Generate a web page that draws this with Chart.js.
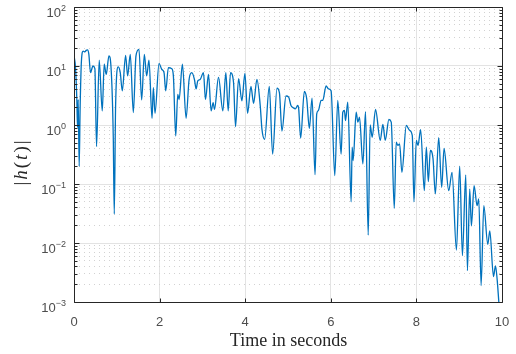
<!DOCTYPE html>
<html>
<head>
<meta charset="utf-8">
<script src="https://cdn.jsdelivr.net/npm/chart.js@4/dist/chart.umd.min.js"></script>
<style>
  html, body { margin: 0; padding: 0; background: #fff; }
</style>
</head>
<body>
<canvas id="impulseChart" width="516" height="354"></canvas>
<script>
// |h(t)| (time in seconds, magnitude)
const times = [
  0.00, 0.035, 0.066, 0.082, 0.098, 0.121, 0.144, 0.176, 0.215, 0.254, 0.285, 0.316, 0.347, 0.386, 0.41, 0.441,
  0.488, 0.527, 0.589, 0.66, 0.706, 0.753, 0.816, 0.863, 0.917, 0.941, 0.972, 1.034, 1.081, 1.128, 1.206, 1.253,
  1.315, 1.386, 1.448, 1.518, 1.581, 1.643, 1.698, 1.752, 1.823, 1.854, 1.893, 1.987, 2.049, 2.104, 2.143, 2.205,
  2.283, 2.322, 2.377, 2.424, 2.455, 2.533, 2.619, 2.689, 2.752, 2.814, 2.853, 2.892, 2.947, 3.025, 3.072, 3.142,
  3.204, 3.251, 3.283, 3.376, 3.478, 3.548, 3.603, 3.657, 3.728, 3.774, 3.845, 3.923, 3.993, 4.055, 4.134, 4.196,
  4.274, 4.352, 4.391, 4.454, 4.563, 4.641, 4.743, 4.80, 4.859, 4.953, 5.016, 5.069, 5.124, 5.171, 5.226, 5.25,
  5.296, 5.382, 5.437, 5.499, 5.562, 5.632, 5.671, 5.71, 5.773, 5.812, 5.89, 5.944, 6.007, 6.093, 6.163, 6.241,
  6.28, 6.319, 6.343, 6.397, 6.475, 6.499, 6.522, 6.593, 6.632, 6.671, 6.749, 6.811, 6.874, 6.92, 6.967, 7.045,
  7.155, 7.217, 7.272, 7.357, 7.412, 7.483, 7.529, 7.568, 7.608, 7.661, 7.764, 7.842, 7.904, 7.943, 7.998, 8.037,
  8.099, 8.185, 8.232, 8.279, 8.326, 8.388, 8.443, 8.521, 8.591, 8.646, 8.755, 8.833, 8.935, 9.012, 9.075, 9.153,
  9.192, 9.246, 9.285, 9.348, 9.418, 9.457, 9.512, 9.575, 9.668, 9.715, 9.801, 9.848, 9.887, 9.926, 9.95
];
const magnitudes = [
  15, 9.4, 2.7, 0.91, 2.7, 0.20, 2.1, 13.0, 17.9, 17.3, 18.4, 18.7, 15.7, 7.7, 8.6, 10,
  9.0, 0.43, 12.6, 1.73, 10.7, 7.2, 14.8, 10, 0.65, 0.031, 2.1, 9.7, 7.7, 3.8, 15.1, 6.8,
  15.7, 1.62, 14.8, 19.1, 2.66, 15.7, 6.8, 12.6, 1.30, 4.3, 1.58, 11.1, 8.8, 7.7, 3.8, 9.4,
  9.0, 6.8, 0.65, 3.3, 2.7, 10.7, 1.30, 5.9, 7.7, 5.9, 4.1, 5.6, 5.9, 7.7, 2.7, 7.2,
  1.73, 2.4, 1.85, 6.4, 1.73, 7.7, 1.73, 7.7, 5.2, 0.94, 6.1, 2.56, 7.5, 1.58, 4.5, 2.33,
  5.9, 2.1, 0.85, 0.57, 4.5, 0.32, 4.2, 3.5, 0.79, 3.1, 2.97, 2.14, 1.96, 1.88, 2.14, 1.88,
  0.60, 3.7, 2.79, 0.88, 2.86, 0.144, 1.55, 1.76, 2.61, 2.61, 4.6, 4.1, 3.8, 0.139, 2.61, 0.32,
  1.65, 1.76, 1.19, 2.44, 0.050, 0.42, 0.25, 1.65, 1.12, 1.36, 0.219, 1.69, 0.0136, 1.0, 0.62, 1.83,
  0.55, 1.02, 0.55, 1.24, 1.12, 0.0386, 0.51, 0.45, 0.48, 0.158, 0.98, 0.81, 0.66, 0.050, 0.55, 0.45,
  0.83, 0.077, 0.42, 0.110, 0.37, 0.27, 0.068, 0.61, 0.088, 0.40, 0.077, 0.158, 0.0076, 0.20, 0.0061, 0.142,
  0.0034, 0.082, 0.0196, 0.094, 0.043, 0.056, 0.0019, 0.043, 0.0095, 0.0161, 0.0027, 0.0041, 0.0024, 0.001, 0.0006
];

const xTicks = [0, 2, 4, 6, 8, 10];
const yDecades = [-3, -2, -1, 0, 1, 2];
const xTitle = "Time in seconds";

const points = times.map((t, i) => ({ x: t, y: magnitudes[i] }));

// decade ticks plus 2..9 minor ticks for the log axis
function logTicks() {
  const out = [];
  yDecades.forEach((d, i) => {
    out.push({ value: Math.pow(10, d), major: true });
    if (i < yDecades.length - 1) {
      for (let k = 2; k <= 9; k++) out.push({ value: k * Math.pow(10, d), major: false });
    }
  });
  return out;
}

const axisFrame = {
  id: "axisFrame",
  afterDraw(chart) {
    const { ctx, chartArea: area } = chart;
    const xs = chart.scales.x;
    const ys = chart.scales.y;
    const L = Math.round(area.left) + 0.5;
    const R = Math.round(area.right) + 0.5;
    const T = Math.round(area.top) + 0.5;
    const B = Math.round(area.bottom) + 0.5;

    ctx.save();
    ctx.strokeStyle = "#262626";
    ctx.lineWidth = 1;
    ctx.beginPath();
    ctx.rect(L, T, R - L, B - T);
    xTicks.forEach(v => {
      const px = Math.round(xs.getPixelForValue(v)) + 0.5;
      ctx.moveTo(px, B); ctx.lineTo(px, B - 4);
      ctx.moveTo(px, T); ctx.lineTo(px, T + 4);
    });
    ys.ticks.forEach(t => {
      const py = Math.round(ys.getPixelForValue(t.value)) + 0.5;
      const len = t.major ? 5 : 3;
      ctx.moveTo(L, py); ctx.lineTo(L + len, py);
      ctx.moveTo(R, py); ctx.lineTo(R - len, py);
    });
    ctx.stroke();

    // tick labels
    ctx.fillStyle = "#4d4d4d";
    ctx.textBaseline = "alphabetic";
    ctx.font = '13px "Liberation Sans", Arial, sans-serif';
    ctx.textAlign = "center";
    xTicks.forEach(v => {
      ctx.fillText(String(v), xs.getPixelForValue(v), 326);
    });

    const labelRight = 66;
    yDecades.forEach(d => {
      const py = ys.getPixelForValue(Math.pow(10, d));
      const exp = d < 0 ? "\u2212" + Math.abs(d) : String(d);
      ctx.font = '9px "Liberation Sans", Arial, sans-serif';
      const ew = ctx.measureText(exp).width;
      ctx.textAlign = "left";
      ctx.fillText(exp, labelRight - ew, py + 4);
      ctx.font = '13px "Liberation Sans", Arial, sans-serif';
      ctx.textAlign = "right";
      ctx.fillText("10", labelRight - ew, py + 10);
    });

    // axis titles
    ctx.fillStyle = "#262626";
    ctx.font = '18px "Liberation Serif", "Times New Roman", serif';
    ctx.textAlign = "center";
    ctx.fillText(xTitle, (L + R) / 2, 345.5);

    // |h(t)| with italic h and t, rotated
    const parts = [
      ["|", false], ["h", true], ["(", false], ["t", true], [")", false], ["|", false]
    ];
    const fontFor = it => (it ? "italic " : "") + '19px "Liberation Serif", "Times New Roman", serif';
    let total = 0;
    parts.forEach(([s, it]) => { ctx.font = fontFor(it); total += ctx.measureText(s).width + 2; });
    ctx.translate(27, (T + B) / 2 + 7);
    ctx.rotate(-Math.PI / 2);
    let cx = -total / 2;
    ctx.textAlign = "left";
    parts.forEach(([s, it]) => {
      ctx.font = fontFor(it);
      ctx.fillText(s, cx, 0);
      cx += ctx.measureText(s).width + 2;
    });
    ctx.restore();
  }
};

new Chart(document.getElementById("impulseChart"), {
  type: "line",
  data: {
    datasets: [
      {
        label: "|h(t)|",
        data: points,
        borderColor: "#0072BD",
        borderWidth: 1.3,
        pointRadius: 0,
        cubicInterpolationMode: "monotone",
        fill: false
      }
    ]
  },
  options: {
    responsive: false,
    animation: false,
    devicePixelRatio: 1,
    layout: { padding: { left: 0, right: 14, top: 7, bottom: 0 } },
    plugins: {
      legend: { display: false },
      tooltip: { enabled: false }
    },
    scales: {
      x: {
        type: "linear",
        min: 0,
        max: 10,
        afterBuildTicks: s => { s.ticks = xTicks.map(v => ({ value: v })); },
        afterFit: s => { s.height = 52; },
        ticks: { display: false },
        border: { display: false },
        grid: { color: "#e3e3e3", lineWidth: 1, drawTicks: false }
      },
      y: {
        type: "logarithmic",
        min: 0.001,
        max: 100,
        afterBuildTicks: s => { s.ticks = logTicks(); },
        afterFit: s => { s.width = 74; },
        ticks: { display: false },
        border: {
          display: false,
          dash: c => (c.tick && !c.tick.major ? [1, 4] : [])
        },
        grid: {
          drawTicks: false,
          lineWidth: 1,
          color: c => (c.tick && !c.tick.major ? "#d2d2d2" : "#e3e3e3")
        }
      }
    }
  },
  plugins: [axisFrame]
});
</script>
</body>
</html>
